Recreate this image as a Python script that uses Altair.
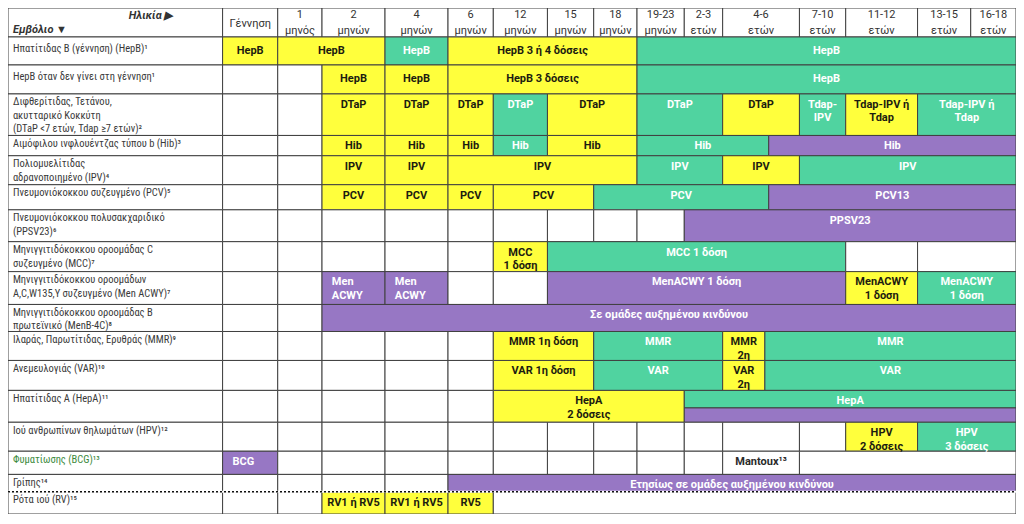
import altair as alt
import pandas as pd

# ---------------- data ----------------
AGES = ["Γέννηση", "1\nμηνός", "2\nμηνών", "4\nμηνών", "6\nμηνών", "12\nμηνών",
        "15\nμηνών", "18\nμηνών", "19-23\nμηνών", "2-3\nετών", "4-6\nετών",
        "7-10\nετών", "11-12\nετών", "13-15\nετών", "16-18\nετών"]

VACCINES = [
    "Ηπατίτιδας Β (γέννηση) (HepB)¹",
    "HepB  όταν δεν γίνει  στη γέννηση¹",
    "Διφθερίτιδας, Τετάνου,\nακυτταρικό Κοκκύτη\n(DTaP <7 ετών, Tdap ≥7 ετών)²",
    "Αιμόφιλου ινφλουέντζας τύπου b (Hib)³",
    "Πολιομυελίτιδας\nαδρανοποιημένο (IPV)⁴",
    "Πνευμονιόκοκκου συζευγμένο (PCV)⁵",
    "Πνευμονιόκοκκου πολυσακχαριδικό\n(PPSV23)⁶",
    "Μηνιγγιτιδόκοκκου οροομάδας C\nσυζευγμένο (MCC)⁷",
    "Μηνιγγιτιδόκοκκου οροομάδων\nA,C,W135,Y συζευγμένο (Men ACWY)⁷",
    "Μηνιγγιτιδόκοκκου οροομάδας Β\nπρωτεϊνικό (MenB-4C)⁸",
    "Ιλαράς, Παρωτίτιδας, Ερυθράς (MMR)⁹",
    "Ανεμευλογιάς (VAR)¹⁰",
    "Ηπατίτιδας Α (HepA)¹¹",
    "Ιού ανθρωπίνων θηλωμάτων (HPV)¹²",
    "Φυματίωσης (BCG)¹³",
    "Γρίπης¹⁴",
    "Ρότα ιού (RV)¹⁵",
]

CORNER_AGE = "Ηλικία ▶"
CORNER_VAC = "Εμβόλιο ▼"

Y, G, P, W = "Y", "G", "P", "W"
# (row, first age column, last age column (exclusive), colour kind, label[, top frac, bottom frac])
CELLS = [
    (0, 0, 1, Y, "HepB"), (0, 1, 3, Y, "HepB"), (0, 3, 4, G, "HepB"),
    (0, 4, 8, Y, "HepB 3 ή 4 δόσεις"), (0, 8, 15, G, "HepB"),

    (1, 0, 1, W, ""), (1, 1, 2, W, ""), (1, 2, 3, Y, "HepB"), (1, 3, 4, Y, "HepB"),
    (1, 4, 8, Y, "HepB 3 δόσεις"), (1, 8, 15, G, "HepB"),

    (2, 0, 1, W, ""), (2, 1, 2, W, ""), (2, 2, 3, Y, "DTaP"), (2, 3, 4, Y, "DTaP"),
    (2, 4, 5, Y, "DTaP"), (2, 5, 6, G, "DTaP"), (2, 6, 8, Y, "DTaP"), (2, 8, 10, G, "DTaP"),
    (2, 10, 11, Y, "DTaP"), (2, 11, 12, G, "Tdap-\nIPV"), (2, 12, 13, Y, "Tdap-IPV ή\nTdap"),
    (2, 13, 15, G, "Tdap-IPV ή\nTdap"),

    (3, 0, 1, W, ""), (3, 1, 2, W, ""), (3, 2, 3, Y, "Hib"), (3, 3, 4, Y, "Hib"),
    (3, 4, 5, Y, "Hib"), (3, 5, 6, G, "Hib"), (3, 6, 8, Y, "Hib"), (3, 8, 10.6, G, "Hib"),
    (3, 10.6, 15, P, "Hib"),

    (4, 0, 1, W, ""), (4, 1, 2, W, ""), (4, 2, 3, Y, "IPV"), (4, 3, 4, Y, "IPV"),
    (4, 4, 8, Y, "IPV"), (4, 8, 10, G, "IPV"), (4, 10, 11, Y, "IPV"), (4, 11, 15, G, "IPV"),

    (5, 0, 1, W, ""), (5, 1, 2, W, ""), (5, 2, 3, Y, "PCV"), (5, 3, 4, Y, "PCV"),
    (5, 4, 5, Y, "PCV"), (5, 5, 7, Y, "PCV"), (5, 7, 10.6, G, "PCV"), (5, 10.6, 15, P, "PCV13"),

    (6, 0, 1, W, ""), (6, 1, 2, W, ""), (6, 2, 3, W, ""), (6, 3, 4, W, ""), (6, 4, 5, W, ""),
    (6, 5, 6, W, ""), (6, 6, 7, W, ""), (6, 7, 8, W, ""), (6, 8, 9, W, ""),
    (6, 9, 15, P, "PPSV23"),

    (7, 0, 1, W, ""), (7, 1, 2, W, ""), (7, 2, 3, W, ""), (7, 3, 4, W, ""), (7, 4, 5, W, ""),
    (7, 5, 6, Y, "MCC\n1 δόση"), (7, 6, 12, G, "MCC 1 δόση"), (7, 12, 13, W, ""),
    (7, 13, 15, W, ""),

    (8, 0, 1, W, ""), (8, 1, 2, W, ""), (8, 2, 3, P, "Men\nACWY"), (8, 3, 4, P, "Men\nACWY"),
    (8, 4, 5, W, ""), (8, 5, 6, W, ""), (8, 6, 12, P, "MenACWY 1 δόση"),
    (8, 12, 13, Y, "MenACWY\n1 δόση"), (8, 13, 15, G, "MenACWY\n1 δόση"),

    (9, 0, 1, W, ""), (9, 1, 2, W, ""), (9, 2, 15, P, "Σε ομάδες αυξημένου κινδύνου"),

    (10, 0, 1, W, ""), (10, 1, 2, W, ""), (10, 2, 3, W, ""), (10, 3, 4, W, ""), (10, 4, 5, W, ""),
    (10, 5, 7, Y, "MMR 1η δόση"), (10, 7, 10, G, "MMR"), (10, 10, 10.55, Y, "MMR\n2η"),
    (10, 10.55, 15, G, "MMR"),

    (11, 0, 1, W, ""), (11, 1, 2, W, ""), (11, 2, 3, W, ""), (11, 3, 4, W, ""), (11, 4, 5, W, ""),
    (11, 5, 7, Y, "VAR 1η δόση"), (11, 7, 10, G, "VAR"), (11, 10, 10.55, Y, "VAR\n2η"),
    (11, 10.55, 15, G, "VAR"),

    (12, 0, 1, W, ""), (12, 1, 2, W, ""), (12, 2, 3, W, ""), (12, 3, 4, W, ""), (12, 4, 5, W, ""),
    (12, 5, 9, Y, "HepA\n2 δόσεις"), (12, 9, 15, G, "HepA", 0.0, 0.55), (12, 9, 15, P, "", 0.55, 1.0),

    (13, 0, 1, W, ""), (13, 1, 2, W, ""), (13, 2, 3, W, ""), (13, 3, 4, W, ""), (13, 4, 5, W, ""),
    (13, 5, 6, W, ""), (13, 6, 7, W, ""), (13, 7, 8, W, ""), (13, 8, 9, W, ""), (13, 9, 10, W, ""),
    (13, 10, 11, W, ""), (13, 11, 12, W, ""), (13, 12, 13, Y, "HPV\n2 δόσεις"),
    (13, 13, 15, G, "HPV\n3 δόσεις"),

    (14, 0, 1, P, "BCG"), (14, 1, 2, W, ""), (14, 2, 3, W, ""), (14, 3, 4, W, ""), (14, 4, 5, W, ""),
    (14, 5, 6, W, ""), (14, 6, 7, W, ""), (14, 7, 8, W, ""), (14, 8, 9, W, ""), (14, 9, 10, W, ""),
    (14, 10, 11, W, "Mantoux¹³"), (14, 11, 15, W, ""),

    (15, 0, 1, W, ""), (15, 1, 2, W, ""), (15, 2, 3, W, ""), (15, 3, 4, W, ""),
    (15, 4, 15, P, "Ετησίως σε ομάδες αυξημένου κινδύνου"),

    (16, 0, 1, W, ""), (16, 1, 2, W, ""), (16, 2, 3, Y, "RV1 ή RV5"), (16, 3, 4, Y, "RV1 ή RV5"),
    (16, 4, 5, Y, "RV5"), (16, 5, 15, W, ""),
]
LEFT_ALIGNED = {"Men\nACWY", "BCG"}
DOTTED_AFTER_ROW = 15   # dotted separator below "Γρίπης"

# ---------------- layout ----------------
COL_W = [218, 56, 45, 64, 64, 46, 55, 47, 44, 48, 39, 78, 47, 73, 54, 46]   # label col + ages
ROW_H = [30, 29, 30, 43, 21, 30, 26, 33, 31, 34, 28, 30, 31, 33, 30, 24, 18, 23]  # header + rows
WIDTH, HEIGHT = 1008, 506
COLORS = {"Y": "#FFFF3C", "G": "#50D3A0", "P": "#9777C4", "W": "#FFFFFF"}
TEXT_ON = {"Y": "#1c1c10", "W": "#2a2a2a", "G": "#FFFFFF", "P": "#FFFFFF"}
CELL_FONT = "Roboto"
LABEL_FONT = "Roboto Condensed, Roboto, sans-serif"
HEAD_FONT = "Roboto"

xe = [0]
for w in COL_W:
    xe.append(xe[-1] + w)
ye = [0]
for h in ROW_H:
    ye.append(ye[-1] + h)


def xpos(c):
    i = min(int(c), 14)
    return xe[i + 1] + (c - i) * COL_W[i + 1]


def ypos(r):
    i = min(int(r), 16)
    return ye[i + 1] + (r - i) * ROW_H[i + 1]


def pad(row):
    return 8.5 if row in (0, 1) else 5


rects, ctext, ltext = [], [], []
# header cells
rects.append(dict(x=0, x2=xe[1], y=0, y2=ye[1], kind="W"))
for k in range(len(AGES)):
    rects.append(dict(x=xpos(k), x2=xpos(k + 1), y=0, y2=ye[1], kind="W"))
# label column cells
for r in range(len(VACCINES)):
    rects.append(dict(x=0, x2=xe[1], y=ypos(r), y2=ypos(r + 1), kind="W"))
# vaccine cells
for cell in CELLS:
    r, s, e, kind, label = cell[:5]
    t0, t1 = (cell[5], cell[6]) if len(cell) > 5 else (0.0, 1.0)
    y0, y1 = ypos(r + t0), ypos(r + t1)
    rects.append(dict(x=xpos(s), x2=xpos(e), y=y0, y2=y1, kind=kind))
    if label:
        d = dict(y=y0 + pad(r), text=label, tcolor=TEXT_ON[kind])
        if label in LEFT_ALIGNED:
            d["x"] = xpos(s) + 10
            ltext.append(d)
        else:
            d["x"] = (xpos(s) + xpos(e)) / 2
            ctext.append(d)

rect_df = pd.DataFrame(rects)
ctext_df = pd.DataFrame(ctext)
ltext_df = pd.DataFrame(ltext)

row_df = pd.DataFrame([
    dict(x=5, y=ypos(r) + (7 if r in (0, 1) else 3.5), text=v,
         tcolor=("#3c8a3c" if r == 14 else "#3a3a3a"))
    for r, v in enumerate(VACCINES)
])
head_df = pd.DataFrame([
    dict(x=(xpos(k) + xpos(k + 1)) / 2, y=(1.5 if "\n" in a else 10), text=a)
    for k, a in enumerate(AGES)
])
corner_df = pd.DataFrame([
    dict(x=167, y=2, text=CORNER_AGE, align="right"),
    dict(x=5, y=17, text=CORNER_VAC, align="left"),
])
line_df = pd.DataFrame([dict(x=0, x2=xe[-1], y=ypos(DOTTED_AFTER_ROW + 1))])

XS = alt.Scale(domain=[0, xe[-1]], nice=False, zero=False)
YS = alt.Scale(domain=[0, ye[-1]], nice=False, zero=False, reverse=True)
FILL = alt.Scale(domain=list(COLORS.keys()), range=list(COLORS.values()))

xenc = alt.X("x:Q", scale=XS, axis=None)
yenc = alt.Y("y:Q", scale=YS, axis=None)

rect_layer = alt.Chart(rect_df).mark_rect(stroke="#404040", strokeWidth=1).encode(
    x=xenc, x2="x2:Q", y=yenc, y2="y2:Q",
    fill=alt.Fill("kind:N", scale=FILL, legend=None),
)
line_white = alt.Chart(line_df).mark_rule(color="white", strokeWidth=2).encode(
    x=xenc, x2="x2:Q", y=yenc)
line_dots = alt.Chart(line_df).mark_rule(color="#111111", strokeWidth=1.6,
                                         strokeDash=[2, 2]).encode(x=xenc, x2="x2:Q", y=yenc)

cell_text = alt.Chart(ctext_df).mark_text(
    font=CELL_FONT, fontSize=11, fontWeight="bold", align="center", baseline="top",
    lineBreak="\n", lineHeight=13.5,
).encode(x=xenc, y=yenc, text="text:N", color=alt.Color("tcolor:N", scale=None))
cell_text_left = alt.Chart(ltext_df).mark_text(
    font=CELL_FONT, fontSize=11, fontWeight="bold", align="left", baseline="top",
    lineBreak="\n", lineHeight=13.5,
).encode(x=xenc, y=yenc, text="text:N", color=alt.Color("tcolor:N", scale=None))
row_text = alt.Chart(row_df).mark_text(
    font=LABEL_FONT, fontSize=10.5, align="left", baseline="top", lineBreak="\n", lineHeight=13.5,
).encode(x=xenc, y=yenc, text="text:N", color=alt.Color("tcolor:N", scale=None))
head_text = alt.Chart(head_df).mark_text(
    font=HEAD_FONT, fontSize=11, align="center", baseline="top", lineBreak="\n",
    lineHeight=16, color="#333333",
).encode(x=xenc, y=yenc, text="text:N")
corner_r = alt.Chart(corner_df[corner_df["align"] == "right"]).mark_text(
    font=HEAD_FONT, fontSize=11, fontWeight="bold", fontStyle="italic", align="right",
    baseline="top", color="#333333",
).encode(x=xenc, y=yenc, text="text:N")
corner_l = alt.Chart(corner_df[corner_df["align"] == "left"]).mark_text(
    font=HEAD_FONT, fontSize=11, fontWeight="bold", fontStyle="italic", align="left",
    baseline="top", color="#333333",
).encode(x=xenc, y=yenc, text="text:N")

chart = alt.layer(
    rect_layer, line_white, line_dots, row_text, head_text, corner_r, corner_l,
    cell_text, cell_text_left,
).properties(
    width=WIDTH, height=HEIGHT, padding=0,
    autosize=alt.AutoSizeParams(type="none"),
).configure_view(stroke=None)

chart.save("out.html", embed_options={"renderer": "svg", "actions": False})
